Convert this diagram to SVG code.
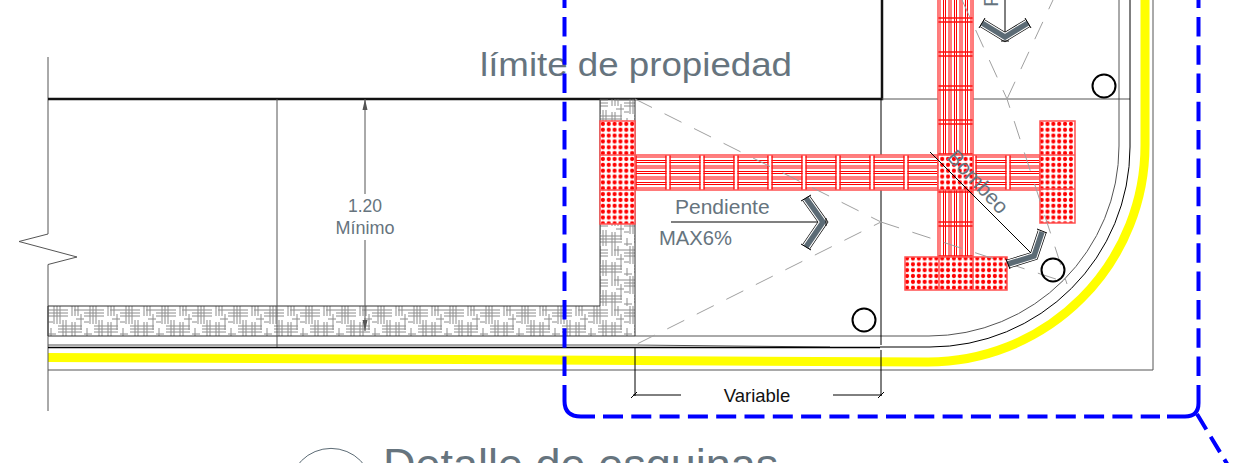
<svg xmlns="http://www.w3.org/2000/svg" width="1244" height="463" viewBox="0 0 1244 463">
<style>
text{font-family:"Liberation Sans",Arial,sans-serif}
.g{fill:#66747e}
.k{fill:none;stroke:#000;stroke-width:1}
.m{fill:none;stroke:#555;stroke-width:1}
.d{fill:none;stroke:#a0a0a0;stroke-width:1;stroke-dasharray:19 14}
.c{fill:none;stroke:#000;stroke-width:2}
.ch{fill:none;stroke:#000;stroke-width:9}
.ch2{fill:none;stroke:#fff;stroke-width:7.600}
.ch3{fill:none;stroke:#5c6b75;stroke-width:5.500}
.tac{stroke:#ff5050;stroke-width:1.500}
</style>
<defs>
<pattern id="hatch" patternUnits="userSpaceOnUse" x="48" y="306" width="36" height="30">
<path d="M6 0V18M9 0V18M12 0V18M24 0V10M27 0V10M30 0V10M24 16V30M27 16V30M15 14V30M18 14V30M33 8V24M3 22V30M0 4H20M0 7H20M0 10H20M26 4H36M10 20H34M10 23H34M10 26H34M0 16H5M28 13H36M0 28H8" fill="none" stroke="#8c8c8c" stroke-width="1"/>
</pattern>
<pattern id="dots" patternUnits="userSpaceOnUse" x="600" y="121" width="5.850" height="5.850">
<rect width="5.850" height="5.850" fill="#fff"/>
<circle cx="2.900" cy="2.900" r="2.100" fill="#ff0000"/>
</pattern>
<pattern id="barH" patternUnits="userSpaceOnUse" x="634" y="155" width="34" height="35">
<rect width="34" height="35" fill="#fff"/>
<path d="M0 2H34M0 5.500H34M0 7.500H34M0 11H34M0 13H34M0 16.500H34M0 18.500H34M0 22H34M0 24H34M0 27.500H34M0 29.500H34M0 33H34" fill="none" stroke="#ff0000" stroke-width="1"/>
<path d="M2 0V35M32 0V35" stroke="#ff1010" stroke-width="1.500"/>
<rect x="0" y="0" width="1.200" height="35" fill="#fff"/>
<rect x="32.800" y="0" width="1.200" height="35" fill="#fff"/>
</pattern>
<pattern id="barV" patternUnits="userSpaceOnUse" x="938" y="-14" width="35" height="34">
<rect width="35" height="34" fill="#fff"/>
<path d="M2 0V34M5.500 0V34M7.500 0V34M11 0V34M13 0V34M16.500 0V34M18.500 0V34M22 0V34M24 0V34M27.500 0V34M29.500 0V34M33 0V34" fill="none" stroke="#ff0000" stroke-width="1"/>
<path d="M0 2H35M0 32H35" stroke="#ff1010" stroke-width="1.500"/>
</pattern>
</defs>

<path d="M48 357.500L928 362A217 217 0 0 0 1145 145V0" fill="none" stroke="#ffff00" stroke-width="9"/>

<g id="lines">
<path class="m" d="M48 57V234L19 241.500L77 257L48 264.500V411"/>
<path d="M48 99H882V0" fill="none" stroke="#111" stroke-width="2.500"/>
<path class="m" d="M882 99H1130"/>
<path class="m" d="M48 345H635L830 347"/>
<path d="M48 347.500H880" fill="none" stroke="#000" stroke-width="1.500"/>
<path class="m" d="M48 370H1153V0"/>
<path class="m" d="M635 336H929A190 190 0 0 0 1119 146V0"/>
<path class="k" d="M880 347H930A200 200 0 0 0 1130 147V0"/>
<path class="k" d="M881 99V345M881 350V396M635 347V396"/>
<path class="k" d="M633 395H681M833 395H882M631 398L637 392M878 398L884 392"/>
</g>

<path d="M600 99H635V336H48V306H600Z" fill="url(#hatch)" stroke="#333" stroke-width="1"/>
<path class="m" d="M277 99V347"/>

<g id="tactile">
<rect class="tac" x="635" y="155" width="405" height="35" fill="url(#barH)"/>
<rect class="tac" x="938" y="-2" width="35" height="259" fill="url(#barV)"/>
<rect class="tac" x="600" y="121" width="35" height="103" fill="url(#dots)"/>
<path class="tac" d="M600 155H635M600 190H635"/>
<rect class="tac" x="1040" y="121" width="35" height="102" fill="url(#dots)"/>
<path class="tac" d="M1040 155H1075M1040 189H1075"/>
<rect class="tac" x="905" y="257" width="102" height="33" fill="url(#dots)"/>
<path class="tac" d="M939 257V290M973 257V290"/>
<rect class="tac" x="938" y="155" width="35" height="35" fill="url(#dots)"/>
</g>

<g id="slope-lines">
<path class="d" d="M635 99L881 222L635 345"/>
<path class="d" d="M881 222L1065 282"/>
<path class="d" d="M962 0L1007 99L1067 284"/>
<path class="d" d="M1007 99L1053 0"/>
</g>

<g id="marks">
<circle class="c" cx="1104" cy="86" r="11.500"/>
<circle class="c" cx="1053" cy="270" r="11.500"/>
<circle class="c" cx="864" cy="320" r="11.500"/>
<path d="M671 222H818" fill="none" stroke="#808080" stroke-width="2"/>
<path class="ch" d="M806 198L823 222L806 247"/>
<path class="ch2" d="M806 198L823 222L806 247"/>
<path class="ch3" d="M806 198L823 222L806 247"/>
<path class="k" d="M801 201L811 195M801 244L811 250M826 218V226"/>
<path class="k" d="M1005 0V36"/>
<path class="ch" d="M982 23L1005 37L1028 23"/>
<path class="ch2" d="M982 23L1005 37L1028 23"/>
<path class="ch3" d="M982 23L1005 37L1028 23"/>
<path class="k" d="M979 28L985 18M1025 18L1031 28M1001 41H1009"/>
<path class="k" d="M930 152L1033 255"/>
<path class="ch" d="M1042 232L1034 256L1008 264"/>
<path class="ch2" d="M1042 232L1034 256L1008 264"/>
<path class="ch3" d="M1042 232L1034 256L1008 264"/>
<path class="k" d="M1037 229L1047 233M1006 259L1010 269"/>
<path class="m" d="M365 99V194M365 240V331"/>
<path d="M365 99L362.500 110H367.500ZM365 331L362.500 320H367.500Z" fill="#555"/>
</g>

<g id="labels">
<text class="g" x="480" y="76" font-size="34" textLength="312" lengthAdjust="spacingAndGlyphs">límite de propiedad</text>
<text class="g" x="365" y="212" font-size="17.500" text-anchor="middle">1.20</text>
<text class="g" x="365" y="234" font-size="18" text-anchor="middle">Mínimo</text>
<text class="g" x="675" y="214" font-size="21">Pendiente</text>
<text class="g" x="659" y="245" font-size="20" textLength="73" lengthAdjust="spacingAndGlyphs">MAX6%</text>
<text class="g" transform="translate(998 7) rotate(-90)" font-size="21">Pendiente</text>
<text class="g" transform="translate(946 158) rotate(47)" font-size="21">Bombeo</text>
<text x="757" y="402" font-size="18.500" text-anchor="middle" fill="#111">Variable</text>
<text class="g" x="383" y="480" font-size="45">Detalle de esquinas</text>
<circle cx="331" cy="490" r="41.600" fill="none" stroke="#5c6b75" stroke-width="1"/>
</g>

<g id="boundary" fill="none" stroke="#0000ff" stroke-width="4">
<path stroke-dasharray="19.500 8.800" d="M564.500 376V0"/>
<path d="M564.500 385V401Q564.500 416.500 581 416.500H595"/>
<path stroke-dasharray="20 8.300" d="M603 416.500H1160"/>
<path d="M1167 416.500H1185Q1198.500 416.500 1198.500 403V385"/>
<path stroke-dasharray="19.500 8.800" d="M1198.500 376V0"/>
<path stroke-dasharray="18 8.500" d="M1197 414L1235 477"/>
</g>
</svg>
